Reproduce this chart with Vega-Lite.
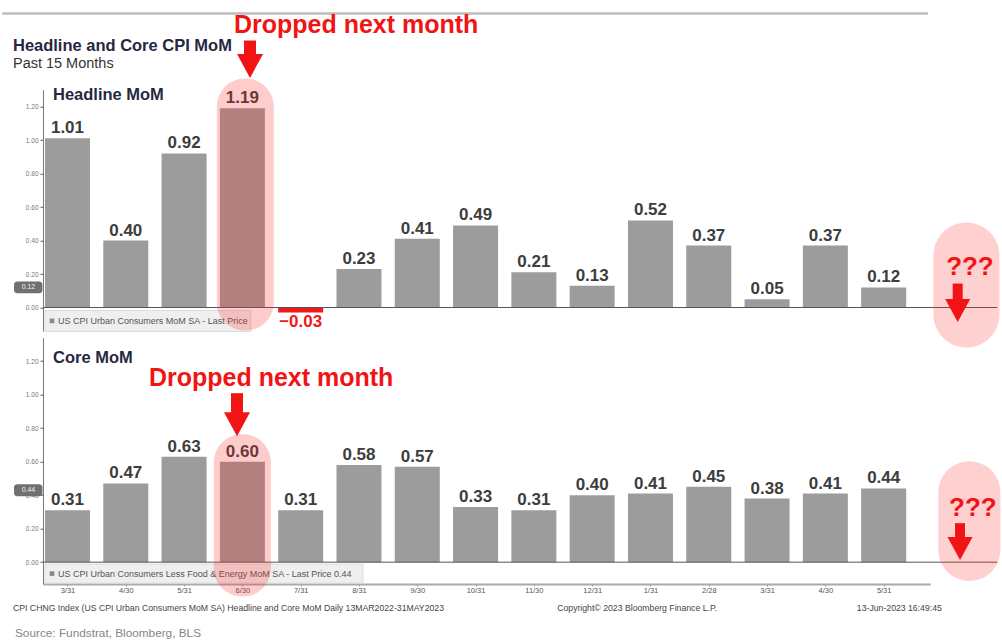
{
  "$schema": "https://vega.github.io/schema/vega-lite/v6.json",
  "background": "white",
  "padding": {"left": 0, "top": 11.75, "right": 0, "bottom": 0},
  "bounds": "flush",
  "spacing": 6,
  "config": {
    "view": {"stroke": null},
    "font": "Liberation Sans",
    "axis": {
      "grid": false,
      "title": null,
      "labelFont": "Liberation Sans",
      "labelFontSize": 6.5,
      "labelColor": "#777777",
      "tickColor": "#555555",
      "tickSize": 3,
      "domainColor": "#777777",
      "labelPadding": 2
    }
  },
  "datasets": {
    "cpi": [
      {"n": 0, "month": "3/31", "headline": 1.01, "core": 0.31},
      {"n": 1, "month": "4/30", "headline": 0.40, "core": 0.47},
      {"n": 2, "month": "5/31", "headline": 0.92, "core": 0.63},
      {"n": 3, "month": "6/30", "headline": 1.19, "core": 0.60},
      {"n": 4, "month": "7/31", "headline": -0.03, "core": 0.31},
      {"n": 5, "month": "8/31", "headline": 0.23, "core": 0.58},
      {"n": 6, "month": "9/30", "headline": 0.41, "core": 0.57},
      {"n": 7, "month": "10/31", "headline": 0.49, "core": 0.33},
      {"n": 8, "month": "11/30", "headline": 0.21, "core": 0.31},
      {"n": 9, "month": "12/31", "headline": 0.13, "core": 0.40},
      {"n": 10, "month": "1/31", "headline": 0.52, "core": 0.41},
      {"n": 11, "month": "2/28", "headline": 0.37, "core": 0.45},
      {"n": 12, "month": "3/31", "headline": 0.05, "core": 0.38},
      {"n": 13, "month": "4/30", "headline": 0.37, "core": 0.41},
      {"n": 14, "month": "5/31", "headline": 0.12, "core": 0.44}
    ],
    "one": [{"k": 1}]
  },
  "vconcat": [
    {
      "width": 887.3,
      "height": 241.2,
      "layer": [
        {
          "data": {"name": "cpi"},
          "mark": {"type": "bar", "width": 45},
          "encoding": {
            "x": {"field": "n", "type": "quantitative", "scale": {"domain": [-0.42, 14.8], "nice": false, "zero": false, "padding": 0}, "axis": null},
            "y": {"field": "headline", "type": "quantitative", "scale": {"domain": [-0.14, 1.3], "nice": false, "zero": false},
              "axis": {"values": [0, 0.1, 0.2, 0.3, 0.4, 0.5, 0.6, 0.7, 0.8, 0.9, 1.0, 1.1, 1.2],
                       "labelExpr": "round(datum.value * 10) % 2 == 0 ? format(datum.value, '.2f') : ''"}},
            "color": {"condition": {"test": "datum.headline < 0", "value": "#f01818"}, "value": "#9c9c9c"}
          }
        },
        {
          "data": {"name": "one"},
          "mark": {"type": "rule", "color": "#bdbdbd", "strokeWidth": 2.5},
          "encoding": {"x": {"datum": -1.12}, "x2": {"datum": 14.76}, "y": {"datum": 1.755}}
        },
        {
          "data": {"name": "one"},
          "mark": {"type": "text", "text": "Headline and Core CPI MoM", "align": "left", "baseline": "middle", "font": "Liberation Sans", "fontWeight": "bold", "fontSize": 16.5, "color": "#272742"},
          "encoding": {"x": {"datum": -0.935}, "y": {"datum": 1.564}}
        },
        {
          "data": {"name": "one"},
          "mark": {"type": "text", "text": "Past 15 Months", "align": "left", "baseline": "middle", "font": "Liberation Sans", "fontSize": 14.5, "color": "#333333"},
          "encoding": {"x": {"datum": -0.935}, "y": {"datum": 1.451}}
        },
        {
          "data": {"name": "one"},
          "mark": {"type": "text", "text": "Headline MoM", "align": "left", "baseline": "middle", "font": "Liberation Sans", "fontWeight": "bold", "fontSize": 16.5, "color": "#272742"},
          "encoding": {"x": {"datum": -0.248}, "y": {"datum": 1.266}}
        },
        {
          "data": {"name": "one"},
          "mark": {"type": "rect", "fill": "#efefef", "stroke": "#d6d6d6", "strokeWidth": 0.8},
          "encoding": {"x": {"datum": -0.386}, "x2": {"datum": 3.147}, "y": {"datum": -0.018}, "y2": {"datum": -0.143}}
        },
        {
          "data": {"name": "one"},
          "mark": {"type": "point", "shape": "square", "filled": true, "size": 22, "color": "#8a8a8a", "opacity": 1},
          "encoding": {"x": {"datum": -0.266}, "y": {"datum": -0.08}}
        },
        {
          "data": {"name": "one"},
          "mark": {"type": "text", "text": "US CPI Urban Consumers MoM SA - Last Price", "align": "left", "baseline": "middle", "font": "Liberation Sans", "fontSize": 9, "color": "#555555"},
          "encoding": {"x": {"datum": -0.163}, "y": {"datum": -0.08}}
        },
        {
          "data": {"name": "one"},
          "mark": {"type": "rect", "fill": "#707070", "cornerRadius": 3},
          "encoding": {"x": {"datum": -0.917}, "x2": {"datum": -0.43}, "y": {"datum": 0.155}, "y2": {"datum": 0.085}}
        },
        {
          "data": {"name": "one"},
          "mark": {"type": "text", "text": "0.12", "align": "center", "baseline": "middle", "font": "Liberation Sans", "fontSize": 7, "color": "#f2f2f2"},
          "encoding": {"x": {"datum": -0.67}, "y": {"datum": 0.12}}
        },
        {
          "data": {"name": "one"},
          "mark": {"type": "rule", "color": "#555555", "strokeWidth": 1},
          "encoding": {"x": {"datum": -0.42}, "x2": {"datum": 15.95}, "y": {"datum": 0}}
        },
        {
          "data": {"name": "cpi"},
          "transform": [{"filter": "datum.headline >= 0"}],
          "mark": {"type": "text", "baseline": "alphabetic", "dy": -5, "font": "Liberation Sans", "fontWeight": "bold", "fontSize": 17, "color": "#3d3d3d"},
          "encoding": {
            "x": {"field": "n", "type": "quantitative"},
            "y": {"field": "headline", "type": "quantitative"},
            "text": {"field": "headline", "type": "quantitative", "format": ".2f"}
          }
        },
        {
          "data": {"name": "cpi"},
          "transform": [{"filter": "datum.headline < 0"}],
          "mark": {"type": "text", "baseline": "top", "dy": 1, "font": "Liberation Sans", "fontWeight": "bold", "fontSize": 17, "color": "#f01818"},
          "encoding": {
            "x": {"field": "n", "type": "quantitative"},
            "y": {"field": "headline", "type": "quantitative"},
            "text": {"field": "headline", "type": "quantitative", "format": ".2f"}
          }
        },
        {
          "data": {"name": "one"},
          "mark": {"type": "bar", "orient": "vertical", "width": 57, "cornerRadius": 28, "fill": "#ff2a2a", "opacity": 0.24},
          "encoding": {"x": {"datum": 3.05}, "y": {"datum": 1.367}, "y2": {"datum": -0.137}}
        },
        {
          "data": {"name": "one"},
          "mark": {"type": "bar", "orient": "vertical", "width": 66, "cornerRadius": 33, "fill": "#ff2a2a", "opacity": 0.22},
          "encoding": {"x": {"datum": 15.42}, "y": {"datum": 0.507}, "y2": {"datum": -0.239}}
        },
        {
          "data": {"name": "one"},
          "mark": {"type": "text", "text": "Dropped next month", "align": "left", "baseline": "middle", "font": "Liberation Sans", "fontWeight": "bold", "fontSize": 25, "color": "#f21414"},
          "encoding": {"x": {"datum": 2.856}, "y": {"datum": 1.684}}
        },
        {
          "data": {"name": "one"},
          "mark": {"type": "rule", "color": "#f21414", "strokeWidth": 12},
          "encoding": {"x": {"datum": 3.131}, "y": {"datum": 1.594}, "y2": {"datum": 1.49}}
        },
        {
          "data": {"name": "one"},
          "mark": {"type": "point", "shape": "M-1,-0.92L1,-0.92L0,0.92Z", "filled": true, "size": 676, "color": "#f21414", "opacity": 1},
          "encoding": {"x": {"datum": 3.131}, "y": {"datum": 1.442}}
        },
        {
          "data": {"name": "one"},
          "mark": {"type": "text", "text": "???", "align": "center", "baseline": "middle", "font": "Liberation Sans", "fontWeight": "bold", "fontSize": 26, "color": "#f21414"},
          "encoding": {"x": {"datum": 15.48}, "y": {"datum": 0.239}}
        },
        {
          "data": {"name": "one"},
          "mark": {"type": "rule", "color": "#f21414", "strokeWidth": 10},
          "encoding": {"x": {"datum": 15.27}, "y": {"datum": 0.143}, "y2": {"datum": 0.03}}
        },
        {
          "data": {"name": "one"},
          "mark": {"type": "point", "shape": "M-1,-0.92L1,-0.92L0,0.92Z", "filled": true, "size": 625, "color": "#f21414", "opacity": 1},
          "encoding": {"x": {"datum": 15.27}, "y": {"datum": -0.018}}
        }
      ]
    },
    {
      "width": 887.3,
      "height": 246.2,
      "layer": [
        {
          "data": {"name": "cpi"},
          "mark": {"type": "bar", "width": 45, "color": "#9c9c9c"},
          "encoding": {
            "x": {"field": "n", "type": "quantitative", "scale": {"domain": [-0.42, 14.8], "nice": false, "zero": false, "padding": 0},
              "axis": {"values": [0, 1, 2, 3, 4, 5, 6, 7, 8, 9, 10, 11, 12, 13, 14],
                       "labelExpr": "['3/31','4/30','5/31','6/30','7/31','8/31','9/30','10/31','11/30','12/31','1/31','2/28','3/31','4/30','5/31'][datum.value]",
                       "labelFontSize": 7.5, "labelColor": "#555555", "tickSize": 2, "tickColor": "#888888",
                       "domainColor": "#aaaaaa", "domainWidth": 2, "labelPadding": 1}},
            "y": {"field": "core", "type": "quantitative", "scale": {"domain": [-0.13, 1.34], "nice": false, "zero": false},
              "axis": {"values": [0, 0.1, 0.2, 0.3, 0.4, 0.5, 0.6, 0.7, 0.8, 0.9, 1.0, 1.1, 1.2],
                       "labelExpr": "round(datum.value * 10) % 2 == 0 ? format(datum.value, '.2f') : ''"}}
          }
        },
        {
          "data": {"name": "one"},
          "mark": {"type": "text", "text": "Core MoM", "align": "left", "baseline": "middle", "font": "Liberation Sans", "fontWeight": "bold", "fontSize": 16.5, "color": "#272742"},
          "encoding": {"x": {"datum": -0.248}, "y": {"datum": 1.218}}
        },
        {
          "data": {"name": "one"},
          "mark": {"type": "rect", "fill": "#efefef", "stroke": "#d6d6d6", "strokeWidth": 0.8},
          "encoding": {"x": {"datum": -0.386}, "x2": {"datum": 5.069}, "y": {"datum": -0.012}, "y2": {"datum": -0.125}}
        },
        {
          "data": {"name": "one"},
          "mark": {"type": "point", "shape": "square", "filled": true, "size": 22, "color": "#8a8a8a", "opacity": 1},
          "encoding": {"x": {"datum": -0.266}, "y": {"datum": -0.068}}
        },
        {
          "data": {"name": "one"},
          "mark": {"type": "text", "text": "US CPI Urban Consumers Less Food & Energy MoM SA - Last Price 0.44", "align": "left", "baseline": "middle", "font": "Liberation Sans", "fontSize": 9, "color": "#555555"},
          "encoding": {"x": {"datum": -0.163}, "y": {"datum": -0.068}}
        },
        {
          "data": {"name": "one"},
          "mark": {"type": "rect", "fill": "#707070", "cornerRadius": 3},
          "encoding": {"x": {"datum": -0.917}, "x2": {"datum": -0.43}, "y": {"datum": 0.466}, "y2": {"datum": 0.394}}
        },
        {
          "data": {"name": "one"},
          "mark": {"type": "text", "text": "0.44", "align": "center", "baseline": "middle", "font": "Liberation Sans", "fontSize": 7, "color": "#f2f2f2"},
          "encoding": {"x": {"datum": -0.67}, "y": {"datum": 0.43}}
        },
        {
          "data": {"name": "one"},
          "mark": {"type": "rule", "color": "#555555", "strokeWidth": 1},
          "encoding": {"x": {"datum": -0.42}, "x2": {"datum": 15.95}, "y": {"datum": 0}}
        },
        {
          "data": {"name": "cpi"},
          "mark": {"type": "text", "baseline": "alphabetic", "dy": -5, "font": "Liberation Sans", "fontWeight": "bold", "fontSize": 17, "color": "#3d3d3d"},
          "encoding": {
            "x": {"field": "n", "type": "quantitative"},
            "y": {"field": "core", "type": "quantitative"},
            "text": {"field": "core", "type": "quantitative", "format": ".2f"}
          }
        },
        {
          "data": {"name": "one"},
          "mark": {"type": "bar", "orient": "vertical", "width": 57, "cornerRadius": 28, "fill": "#ff2a2a", "opacity": 0.24},
          "encoding": {"x": {"datum": 3.0}, "y": {"datum": 0.764}, "y2": {"datum": -0.205}}
        },
        {
          "data": {"name": "one"},
          "mark": {"type": "bar", "orient": "vertical", "width": 62, "cornerRadius": 31, "fill": "#ff2a2a", "opacity": 0.22},
          "encoding": {"x": {"datum": 15.47}, "y": {"datum": 0.603}, "y2": {"datum": -0.113}}
        },
        {
          "data": {"name": "one"},
          "mark": {"type": "text", "text": "Dropped next month", "align": "left", "baseline": "middle", "font": "Liberation Sans", "fontWeight": "bold", "fontSize": 25, "color": "#f21414"},
          "encoding": {"x": {"datum": 1.398}, "y": {"datum": 1.099}}
        },
        {
          "data": {"name": "one"},
          "mark": {"type": "rule", "color": "#f21414", "strokeWidth": 12},
          "encoding": {"x": {"datum": 2.908}, "y": {"datum": 1.009}, "y2": {"datum": 0.87}}
        },
        {
          "data": {"name": "one"},
          "mark": {"type": "point", "shape": "M-1,-0.92L1,-0.92L0,0.92Z", "filled": true, "size": 676, "color": "#f21414", "opacity": 1},
          "encoding": {"x": {"datum": 2.908}, "y": {"datum": 0.824}}
        },
        {
          "data": {"name": "one"},
          "mark": {"type": "text", "text": "???", "align": "center", "baseline": "middle", "font": "Liberation Sans", "fontWeight": "bold", "fontSize": 26, "color": "#f21414"},
          "encoding": {"x": {"datum": 15.53}, "y": {"datum": 0.322}}
        },
        {
          "data": {"name": "one"},
          "mark": {"type": "rule", "color": "#f21414", "strokeWidth": 10},
          "encoding": {"x": {"datum": 15.31}, "y": {"datum": 0.233}, "y2": {"datum": 0.12}}
        },
        {
          "data": {"name": "one"},
          "mark": {"type": "point", "shape": "M-1,-0.92L1,-0.92L0,0.92Z", "filled": true, "size": 625, "color": "#f21414", "opacity": 1},
          "encoding": {"x": {"datum": 15.31}, "y": {"datum": 0.081}}
        },
        {
          "data": {"name": "one"},
          "mark": {"type": "text", "text": "CPI CHNG Index (US CPI Urban Consumers MoM SA) Headline and Core MoM  Daily 13MAR2022-31MAY2023", "align": "left", "baseline": "middle", "font": "Liberation Sans", "fontSize": 8.7, "color": "#444444"},
          "encoding": {"x": {"datum": -0.935}, "y": {"datum": -0.275}}
        },
        {
          "data": {"name": "one"},
          "mark": {"type": "text", "text": "Copyright© 2023 Bloomberg Finance L.P.", "align": "left", "baseline": "middle", "font": "Liberation Sans", "fontSize": 8.7, "color": "#444444"},
          "encoding": {"x": {"datum": 8.4}, "y": {"datum": -0.275}}
        },
        {
          "data": {"name": "one"},
          "mark": {"type": "text", "text": "13-Jun-2023 16:49:45", "align": "left", "baseline": "middle", "font": "Liberation Sans", "fontSize": 8.7, "color": "#444444"},
          "encoding": {"x": {"datum": 13.54}, "y": {"datum": -0.275}}
        },
        {
          "data": {"name": "one"},
          "mark": {"type": "text", "text": "Source: Fundstrat, Bloomberg, BLS", "align": "left", "baseline": "middle", "font": "Liberation Sans", "fontSize": 11.8, "color": "#858585"},
          "encoding": {"x": {"datum": -0.9}, "y": {"datum": -0.424}}
        }
      ]
    }
  ]
}
